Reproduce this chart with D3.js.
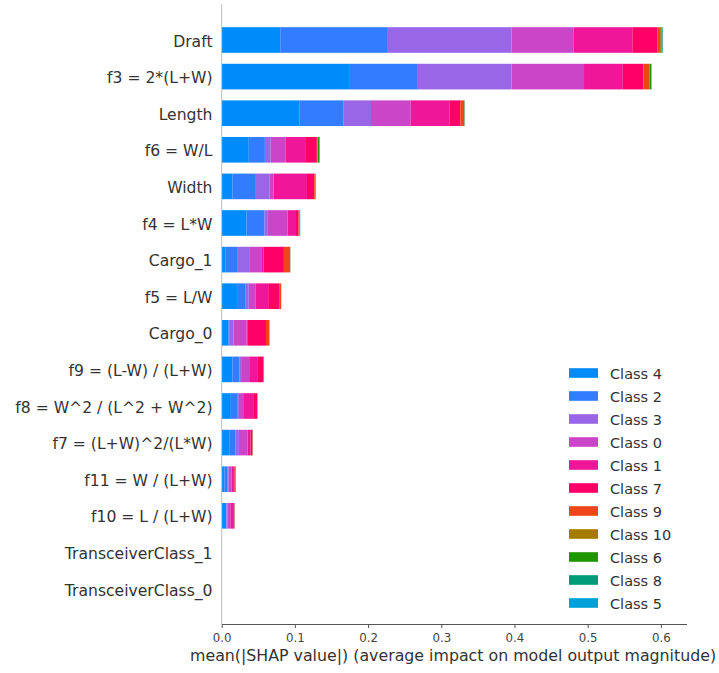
<!DOCTYPE html>
<html>
<head>
<meta charset="utf-8">
<script src="https://cdn.jsdelivr.net/npm/d3@7"></script>
<style>
  html, body { margin: 0; padding: 0; background: #fff; }
  svg { display: block; font-family: "DejaVu Sans", sans-serif; }
</style>
</head>
<body>
<svg id="chart" width="719" height="673"></svg>
<script>
// Features, top to bottom (sorted by total mean |SHAP|)
const features = [
  "Draft", "f3 = 2*(L+W)", "Length", "f6 = W/L", "Width", "f4 = L*W",
  "Cargo_1", "f5 = L/W", "Cargo_0", "f9 = (L-W) / (L+W)",
  "f8 = W^2 / (L^2 + W^2)", "f7 = (L+W)^2/(L*W)", "f11 = W / (L+W)",
  "f10 = L / (L+W)", "TransceiverClass_1", "TransceiverClass_0"
];

// Classes in stacking order (left to right) and legend order
const classes = ["Class 4", "Class 2", "Class 3", "Class 0", "Class 1", "Class 7",
                 "Class 9", "Class 10", "Class 6", "Class 8", "Class 5"];
const classColors = ["#008bfb", "#317cff", "#9966e8", "#cb45c8", "#f0169a", "#ff0068",
                     "#f0441a", "#a57a00", "#1f9500", "#009b78", "#00a0d8"];

// mean(|SHAP value|) per class, one entry per feature (same order as features)
const class4  = [0.0800, 0.1740, 0.1060, 0.0370, 0.0145, 0.0340, 0.0055, 0.0210, 0.0090, 0.0145, 0.0125, 0.0110, 0.0035, 0.0045, 0, 0];
const class2  = [0.1470, 0.0940, 0.0600, 0.0220, 0.0310, 0.0245, 0.0155, 0.0110, 0.0020, 0.0095, 0.0085, 0.0080, 0.0040, 0.0018, 0, 0];
const class3  = [0.1690, 0.1280, 0.0380, 0.0080, 0.0200, 0.0045, 0.0165, 0.0050, 0.0050, 0.0025, 0.0025, 0.0045, 0.0020, 0.0015, 0, 0];
const class0  = [0.0850, 0.0990, 0.0540, 0.0200, 0.0055, 0.0270, 0.0165, 0.0095, 0.0180, 0.0110, 0.0070, 0.0120, 0.0040, 0.0040, 0, 0];
const class1  = [0.0800, 0.0530, 0.0530, 0.0270, 0.0455, 0.0115, 0.0030, 0.0170, 0.0010, 0.0110, 0.0125, 0.0040, 0.0022, 0.0040, 0, 0];
const class7  = [0.0340, 0.0280, 0.0150, 0.0160, 0.0100, 0.0035, 0.0280, 0.0150, 0.0255, 0.0085, 0.0055, 0.0025, 0.0020, 0.0015, 0, 0];
const class9  = [0.0040, 0.0080, 0.0050, 0.0010, 0.0015, 0.0015, 0.0085, 0.0025, 0.0045, 0.0005, 0.0003, 0.0003, 0.0013, 0.0003, 0, 0];
const class10 = [0.0020, 0.0010, 0.0005, 0.0005, 0.0002, 0.0002, 0.0001, 0.0001, 0.0001, 0.0001, 0.0001, 0.0001, 0.0001, 0.0001, 0, 0];
const class6  = [0.0010, 0.0015, 0.0003, 0.0020, 0.0002, 0.0002, 0.0001, 0.0001, 0.0001, 0.0001, 0.0001, 0.0001, 0.0001, 0.0001, 0, 0];
const class8  = [0.0005, 0.0005, 0.0002, 0.0003, 0.0002, 0.0002, 0.0001, 0.0001, 0.0001, 0.0001, 0.0001, 0.0001, 0.0001, 0.0001, 0, 0];
const class5  = [0.0003, 0.0003, 0.0001, 0.0002, 0.0002, 0.0002, 0.0001, 0.0001, 0.0001, 0.0001, 0.0001, 0.0001, 0.0001, 0.0001, 0, 0];

const classValues = [class4, class2, class3, class0, class1, class7, class9, class10, class6, class8, class5];

// X axis ticks
const xTicks = [0.0, 0.1, 0.2, 0.3, 0.4, 0.5, 0.6];
const xLabel = "mean(|SHAP value|) (average impact on model output magnitude)";

// Layout
const plotLeft = 221.7, plotRight = 686.5;
const axisY = 624, spineTop = 4;

const svg = d3.select("#chart");

const x = d3.scaleLinear().domain([0, 0.635]).range([plotLeft, plotRight]);
const y = d3.scaleBand().domain(features).range([21.7, 607.3])
  .paddingInner(0.3).paddingOuter(0.15);

// Build rows for stacking
const rows = features.map((f, i) => {
  const r = { feature: f };
  classes.forEach((c, k) => { r[c] = classValues[k][i]; });
  return r;
});
const stacked = d3.stack().keys(classes)(rows);

// Stacked bars
const layers = svg.append("g").selectAll("g")
  .data(stacked)
  .join("g")
  .attr("fill", (d, k) => classColors[k]);

layers.selectAll("rect")
  .data(d => d.filter(s => s[1] - s[0] > 0))
  .join("rect")
  .attr("x", s => x(s[0]))
  .attr("y", s => y(s.data.feature))
  .attr("width", s => x(s[1]) - x(s[0]))
  .attr("height", y.bandwidth());

// Left spine (light)
svg.append("line")
  .attr("x1", plotLeft).attr("x2", plotLeft)
  .attr("y1", spineTop).attr("y2", axisY)
  .attr("stroke", "#bdbdbd").attr("stroke-width", 1);

// Feature names
svg.append("g").selectAll("text")
  .data(features)
  .join("text")
  .attr("x", 212.5)
  .attr("y", f => y(f) + y.bandwidth() / 2 + 1.5)
  .attr("text-anchor", "end")
  .attr("dominant-baseline", "central")
  .attr("font-size", "15.6px")
  .attr("fill", "#333")
  .text(f => f);

// Bottom axis
const xAxis = d3.axisBottom(x).tickValues(xTicks).tickFormat(d3.format(".1f"))
  .tickSize(4).tickSizeOuter(0);
const gx = svg.append("g").attr("transform", `translate(0,${axisY})`).call(xAxis);
gx.select(".domain").attr("stroke", "#555").attr("stroke-width", 1.2);
gx.selectAll(".tick line").attr("stroke", "#555");
gx.selectAll(".tick text")
  .attr("font-family", "DejaVu Sans, sans-serif")
  .attr("font-size", "11.8px")
  .attr("fill", "#444")
  .attr("dy", "0.9em");

svg.append("text")
  .attr("x", (plotLeft + plotRight) / 2 - 1)
  .attr("y", 661)
  .attr("text-anchor", "middle")
  .attr("font-size", "15.8px")
  .attr("fill", "#333")
  .text(xLabel);

// Legend
const legend = svg.append("g").selectAll("g")
  .data(classes)
  .join("g")
  .attr("transform", (c, k) => `translate(569,${373 + k * 23})`);

legend.append("rect")
  .attr("x", 0).attr("y", -4.8)
  .attr("width", 29).attr("height", 9.6)
  .attr("fill", (c, k) => classColors[k]);

legend.append("text")
  .attr("x", 41).attr("y", 1)
  .attr("dominant-baseline", "central")
  .attr("font-size", "14.5px")
  .attr("fill", "#333")
  .text(c => c);
</script>
</body>
</html>
